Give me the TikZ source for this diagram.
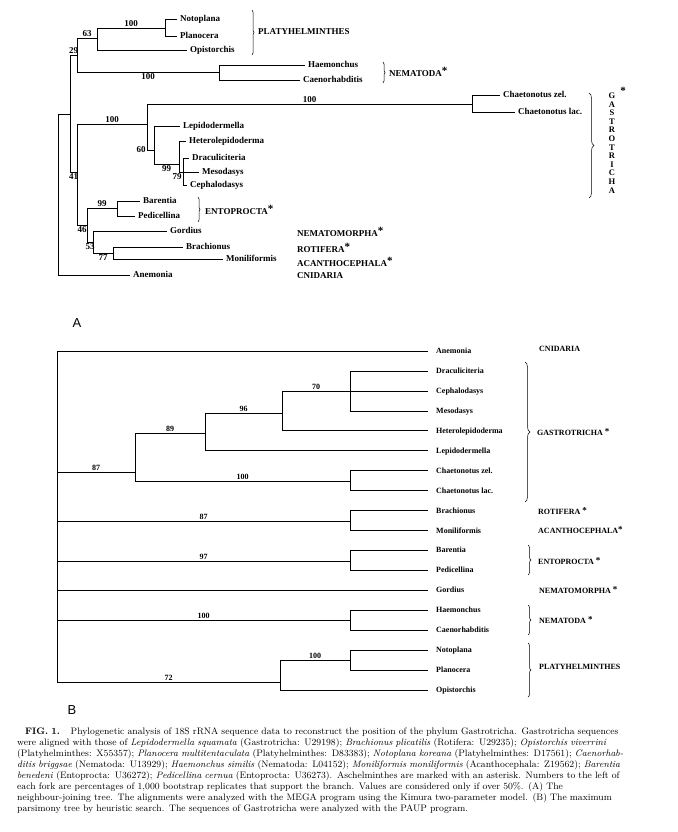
\documentclass[tikz,border=0pt]{standalone}
\usepackage{fontspec}
\newfontfamily\treefont{Liberation Serif}
\newfontfamily\panelfont{Liberation Sans}
\usetikzlibrary{decorations.pathreplacing}
\newcommand{\asterix}[1][11]{\raisebox{1.5pt}{\fontsize{#1}{#1}\selectfont *}}
\newcommand{\capline}[2][648pt]{\makebox[#1][s]{#2}}

\begin{document}
\begin{tikzpicture}[x=1pt,y=-1pt]
      \tikzset{taxA/.style={anchor=west, inner xsep=3pt, inner ysep=0pt, text height=1.5ex, text depth=.3ex,
                            font=\treefont\bfseries\fontsize{9}{9}\selectfont},
               taxB/.style={taxA, inner xsep=8pt, font=\treefont\bfseries\fontsize{8}{8}\selectfont},
               bootA/.style={inner sep=1pt, font=\treefont\bfseries\fontsize{9}{9}\selectfont},
               bootB/.style={inner sep=1pt, font=\treefont\bfseries\fontsize{8}{8}\selectfont},
               groupA/.style={anchor=west, inner sep=0pt, font=\treefont\bfseries\fontsize{9}{9}\selectfont},
               groupB/.style={anchor=west, inner sep=0pt, font=\treefont\bfseries\fontsize{8}{8}\selectfont},
               clade/.style={decorate, decoration={brace, amplitude=#1}, line width=.5pt},
               panel/.style={font=\panelfont\fontsize{13}{13}\selectfont}}
      \useasboundingbox (0,0) rectangle (677,832);
%% Panel A: forks
      	\coordinate (rootA) at (58,114);
      	\coordinate (nA1) at (70,114);
      	\coordinate (nPN) at (77,55);
      	\coordinate (n63) at (97,38);
      	\coordinate (nNP) at (165,28);
      	\coordinate (nNem) at (219,72);
      	\coordinate (nLow) at (77,172);
      	\coordinate (nGas) at (147,124);
      	\coordinate (nCh) at (472,104);
      	\coordinate (n60) at (154,150);
      	\coordinate (n99) at (179,164);
      	\coordinate (n79) at (183,172);
      	\coordinate (n46) at (87,225);
      	\coordinate (nEnt) at (117,208);
      	\coordinate (n53) at (93,242);
      	\coordinate (n77) at (113,253);
%% Panel A: taxa
      	\node[taxA] (aNoto) at (177,19) {Notoplana};
      	\node[taxA] (aPlan) at (177,36) {Planocera};
      	\node[taxA] (aOpis) at (187,50) {Opistorchis};
      	\node[taxA] (aHaem) at (305,65) {Haemonchus};
      	\node[taxA] (aCaen) at (300,80) {Caenorhabditis};
      	\node[taxA] (aChz) at (500,95) {Chaetonotus zel.};
      	\node[taxA] (aChl) at (515,112) {Chaetonotus lac.};
      	\node[taxA] (aLepi) at (180,126) {Lepidodermella};
      	\node[taxA] (aHete) at (186,141) {Heterolepidoderma};
      	\node[taxA] (aDrac) at (189,158) {Draculiciteria};
      	\node[taxA] (aMeso) at (199,172) {Mesodasys};
      	\node[taxA] (aCeph) at (187,185) {Cephalodasys};
      	\node[taxA] (aBare) at (140,201) {Barentia};
      	\node[taxA] (aPedi) at (135,216) {Pedicellina};
      	\node[taxA] (aGord) at (167,231) {Gordius};
      	\node[taxA] (aBrac) at (183,247) {Brachionus};
      	\node[taxA] (aMoni) at (223,259) {Moniliformis};
      	\node[taxA] (aAnem) at (130,275) {Anemonia};
%% Panel A: branches
	\begin{scope}[line width=.9pt]
		\draw (rootA) |- (nA1);
		\draw (rootA) |- (aAnem);
		\draw (nA1) |- node[bootA, pos=.75, above] {29} (nPN);
		\draw (nA1) |- node[bootA, pos=.75, below] {41} (nLow);
		\draw (nPN) |- node[bootA, pos=.75, above] {63} (n63);
		\draw (nPN) |- node[bootA, pos=.75, below] {100} (nNem);
		\draw (n63) |- node[bootA, pos=.75, above] {100} (nNP);
		\draw (n63) |- (aOpis);
		\draw (nNP) |- (aNoto);
		\draw (nNP) |- (aPlan);
		\draw (nNem) |- (aHaem);
		\draw (nNem) |- (aCaen);
		\draw (nLow) |- node[bootA, pos=.75, above] {100} (nGas);
		\draw (nLow) |- node[bootA, pos=.75, below] {46} (n46);
		\draw (nGas) |- node[bootA, pos=.75, above] {100} (nCh);
		\draw (nGas) |- node[bootA, pos=.5, left] {60} (n60);
		\draw (nCh) |- (aChz);
		\draw (nCh) |- (aChl);
		\draw (n60) |- (aLepi);
		\draw (n60) |- node[bootA, pos=.75, below] {99} (n99);
		\draw (n99) |- (aHete);
		\draw (n99) |- (aMeso);
		\draw (n79) |- (aDrac);
		\draw (n79) |- (aCeph);
		\node[bootA, below left] at (n79) {79};
		\draw (n46) |- node[bootA, pos=.75, above] {99} (nEnt);
		\draw (n46) |- node[bootA, pos=.75, below] {53} (n53);
		\draw (nEnt) |- (aBare);
		\draw (nEnt) |- (aPedi);
		\draw (n53) |- (aGord);
		\draw (n53) |- node[bootA, pos=.75, below] {77} (n77);
		\draw (n77) |- (aBrac);
		\draw (n77) |- (aMoni);
	\end{scope}
%% Panel A: groups
		\draw[clade=2pt] (252,10) -- (252,55);
		\node[groupA] (gPlaA) at (258,32) {PLATYHELMINTHES};
		\draw[clade=2pt] (383,62) -- (383,83);
		\node[groupA] (gNemA) at (389,72) {NEMATODA\asterix};
		\draw[clade=5pt] (589,93) -- (589,198);
		\node[align=center, inner sep=0pt, font=\treefont\bfseries\fontsize{8.5}{8.6}\selectfont] (gGasA) at (612,143)
		     {G\\A\\S\\T\\R\\O\\T\\R\\I\\C\\H\\A};
		\node[inner sep=0pt, font=\treefont\bfseries] (sGasA) at (623,92) {\asterix};
		\draw[clade=2pt] (198,197) -- (198,222);
		\node[groupA] (gEntA) at (205,210) {ENTOPROCTA\asterix};
		\node[groupA] (gNmmA) at (297,232) {NEMATOMORPHA\asterix};
		\node[groupA] (gRotA) at (297,248) {ROTIFERA\asterix};
		\node[groupA] (gAcaA) at (297,262) {ACANTHOCEPHALA\asterix};
		\node[groupA] (gCniA) at (297,276) {CNIDARIA};
		\node[panel] (labA) at (77,323) {A};
%% Panel B: forks
      	\coordinate (rootB) at (57,351);
      	\coordinate (bG87) at (135,472);
      	\coordinate (bG89) at (205,433);
      	\coordinate (bG96) at (282,413);
      	\coordinate (bG70) at (350,391);
      	\coordinate (bCh) at (350,481);
      	\coordinate (bRA) at (350,521);
      	\coordinate (bEnt) at (350,561);
      	\coordinate (bNem) at (350,620);
      	\coordinate (bPla) at (280,682);
      	\coordinate (bNP) at (350,660);
%% Panel B: taxa
	\foreach \nm/\tx [count=\i from 0] in {bAnem/Anemonia, bDrac/Draculiciteria, bCeph/Cephalodasys,
	      bMeso/Mesodasys, bHete/Heterolepidoderma, bLepi/Lepidodermella, bChz/Chaetonotus zel.,
	      bChl/Chaetonotus lac., bBrac/Brachionus, bMoni/Moniliformis, bBare/Barentia, bPedi/Pedicellina,
	      bGord/Gordius, bHaem/Haemonchus, bCaen/Caenorhabditis, bNoto/Notoplana, bPlan/Planocera,
	      bOpis/Opistorchis}
		\node[taxB] (\nm) at (428,{351+19.94*\i}) {\tx};
%% Panel B: branches
	\begin{scope}[line width=.6pt]
		\draw (rootB) |- (bAnem);
		\draw (rootB) |- node[bootB, pos=.75, above] {87} (bG87);
		\draw (rootB) |- node[bootB, pos=.75, above] {87} (bRA);
		\draw (rootB) |- node[bootB, pos=.75, above] {97} (bEnt);
		\draw (rootB) |- (bGord);
		\draw (rootB) |- node[bootB, pos=.75, above] {100} (bNem);
		\draw (rootB) |- node[bootB, pos=.75, above] {72} (bPla);
		\draw (bG87) |- node[bootB, pos=.75, above] {89} (bG89);
		\draw (bG87) |- node[bootB, pos=.75, above] {100} (bCh);
		\draw (bG89) |- node[bootB, pos=.75, above] {96} (bG96);
		\draw (bG89) |- (bLepi);
		\draw (bG96) |- node[bootB, pos=.75, above] {70} (bG70);
		\draw (bG96) |- (bHete);
		\draw (bG70) |- (bDrac);
		\draw (bG70) |- (bCeph);
		\draw (bG70) |- (bMeso);
		\draw (bCh) |- (bChz);
		\draw (bCh) |- (bChl);
		\draw (bRA) |- (bBrac);
		\draw (bRA) |- (bMoni);
		\draw (bEnt) |- (bBare);
		\draw (bEnt) |- (bPedi);
		\draw (bNem) |- (bHaem);
		\draw (bNem) |- (bCaen);
		\draw (bPla) |- node[bootB, pos=.75, above] {100} (bNP);
		\draw (bPla) |- (bOpis);
		\draw (bNP) |- (bNoto);
		\draw (bNP) |- (bPlan);
	\end{scope}
%% Panel B: groups
		\node[groupB] (gCniB) at (539,349) {CNIDARIA};
		\draw[clade=5pt] (525,362) -- (525,502);
		\node[groupB] (gGasB) at (537,432) {GASTROTRICHA \asterix[9]};
		\node[groupB] (gRotB) at (538,511) {ROTIFERA \asterix[9]};
		\node[groupB] (gAcaB) at (538,530) {ACANTHOCEPHALA\asterix[9]};
		\draw[clade=3pt] (528,545) -- (528,575);
		\node[groupB] (gEntB) at (538,561) {ENTOPROCTA \asterix[9]};
		\node[groupB] (gNmmB) at (539,590) {NEMATOMORPHA \asterix[9]};
		\draw[clade=3pt] (528,605) -- (528,635);
		\node[groupB] (gNemB) at (539,620) {NEMATODA \asterix[9]};
		\draw[clade=3pt] (528,643) -- (528,697);
		\node[groupB] (gPlaB) at (539,667) {PLATYHELMINTHES};
		\node[panel] (labB) at (72,710) {B};
%% Caption
		\node[anchor=north west, inner sep=0pt, align=left, text width=648pt, font=\fontsize{9.4}{11}\selectfont] (caption) at (17,728)
		{\hspace*{8pt}\capline[640pt]{\textbf{FIG. 1.}\hspace{6pt} Phylogenetic analysis of 18S rRNA sequence data to reconstruct the position of the phylum Gastrotricha. Gastrotricha sequences}\\
		 \capline{were aligned with those of \textit{Lepidodermella squamata} (Gastrotricha: U29198); \textit{Brachionus plicatilis} (Rotifera: U29235); \textit{Opistorchis viverrini}}\\
		 \capline{(Platyhelminthes: X55357); \textit{Planocera multitentaculata} (Platyhelminthes: D83383); \textit{Notoplana koreana} (Platyhelminthes: D17561); \textit{Caenorhab-}}\\
		 \capline{\textit{ditis briggsae} (Nematoda: U13929); \textit{Haemonchus similis} (Nematoda: L04152); \textit{Moniliformis moniliformis} (Acanthocephala: Z19562); \textit{Barentia}}\\
		 \capline{\textit{benedeni} (Entoprocta: U36272); \textit{Pedicellina cernua} (Entoprocta: U36273). Aschelminthes are marked with an asterisk. Numbers to the left of}\\
		 \capline{each fork are percentages of 1,000 bootstrap replicates that support the branch. Values are considered only if over 50\%. (A) The}\\
		 \capline{neighbour-joining tree. The alignments were analyzed with the MEGA program using the Kimura two-parameter model. (B) The maximum}\\
		 parsimony tree by heuristic search. The sequences of Gastrotricha were analyzed with the PAUP program.};

\end{tikzpicture}
\end{document}
